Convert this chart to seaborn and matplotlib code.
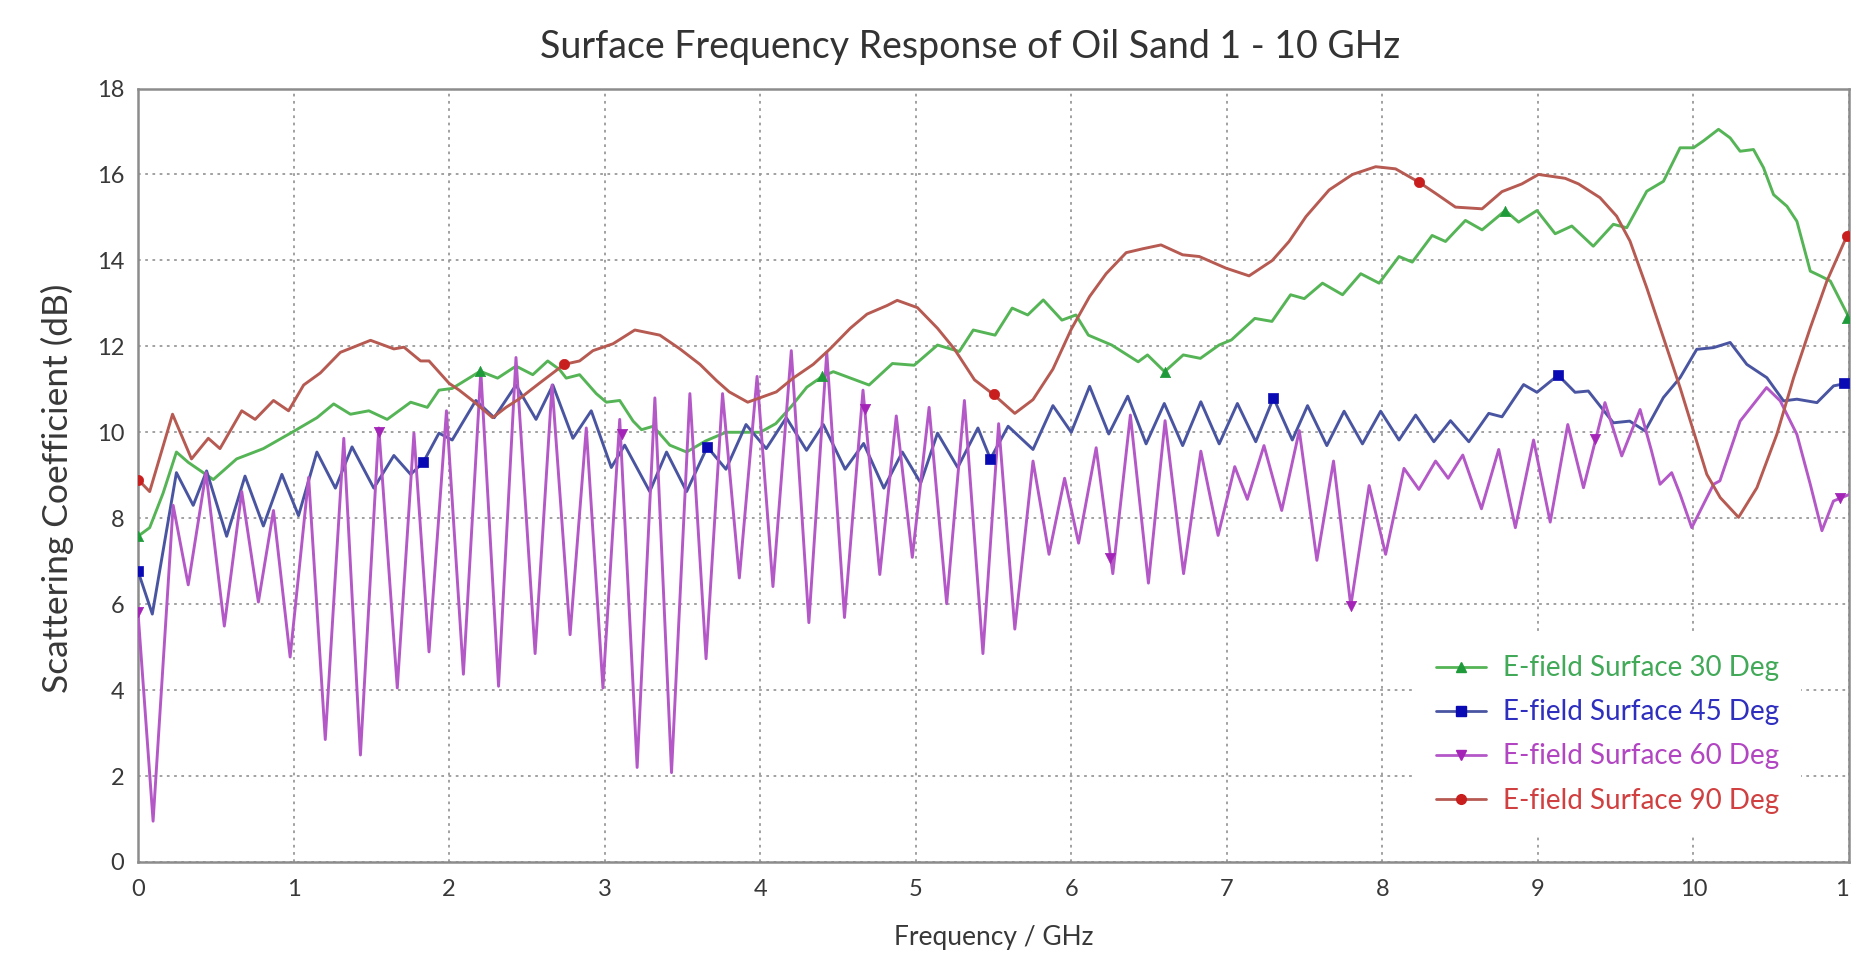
import matplotlib
matplotlib.use("Agg")
import matplotlib.pyplot as plt
from matplotlib.lines import Line2D
import seaborn as sns
import pandas as pd

# ---------------- data ----------------
labels = ["E-field Surface 30 Deg", "E-field Surface 45 Deg",
          "E-field Surface 60 Deg", "E-field Surface 90 Deg"]

freq_30 = [0, 0.075, 0.161, 0.247, 0.323, 0.484, 0.634, 0.806, 1.0, 1.151, 1.258, 1.366,
           1.484, 1.602, 1.753, 1.86, 1.935, 2.02, 2.2, 2.312, 2.43, 2.538, 2.634, 2.71,
           2.753, 2.839, 2.946, 3.011, 3.097, 3.183, 3.237, 3.312, 3.419, 3.527, 3.65, 3.78,
           3.9, 4.0, 4.1, 4.2, 4.3, 4.4, 4.47, 4.7, 4.85, 4.99, 5.14, 5.28, 5.37, 5.51,
           5.62, 5.72, 5.82, 5.94, 6.03, 6.11, 6.26, 6.43, 6.49, 6.6, 6.72, 6.83, 6.95,
           7.03, 7.18, 7.29, 7.41, 7.498, 7.615, 7.744, 7.861, 7.979, 8.107, 8.192, 8.32,
           8.406, 8.534, 8.641, 8.79, 8.876, 8.994, 9.111, 9.218, 9.356, 9.485, 9.571, 9.7,
           9.807, 9.914, 10.0, 10.064, 10.161, 10.236, 10.3, 10.386, 10.45, 10.515, 10.601,
           10.665, 10.751, 10.815, 10.88, 11.0]
s_30 = [7.58, 7.78, 8.58, 9.54, 9.3, 8.9, 9.38, 9.62, 10.02, 10.34, 10.66, 10.42,
        10.5, 10.3, 10.7, 10.58, 10.98, 11.02, 11.42, 11.26, 11.54, 11.34, 11.66, 11.46,
        11.26, 11.34, 10.9, 10.7, 10.74, 10.26, 10.06, 10.14, 9.7, 9.54, 9.8, 10.0,
        10.0, 10.0, 10.2, 10.6, 11.05, 11.3, 11.41, 11.1, 11.6, 11.56, 12.03, 11.88, 12.38, 12.26,
        12.89, 12.73, 13.08, 12.61, 12.73, 12.26, 12.03, 11.64, 11.8, 11.41, 11.8, 11.72, 12.03,
        12.15, 12.65, 12.58, 13.2, 13.11, 13.47, 13.2, 13.69, 13.47, 14.09, 13.96, 14.58,
        14.44, 14.93, 14.71, 15.16, 14.89, 15.16, 14.62, 14.8, 14.33, 14.84, 14.76, 15.61,
        15.84, 16.62, 16.62, 16.78, 17.05, 16.85, 16.54, 16.58, 16.16, 15.53, 15.26,
        14.91, 13.75, 13.64, 13.52, 12.67]

freq_45 = [0, 0.092, 0.247, 0.355, 0.441, 0.57, 0.688, 0.806, 0.925, 1.032, 1.15, 1.269,
           1.376, 1.516, 1.645, 1.753, 1.834, 1.935, 2.02, 2.172, 2.29, 2.43, 2.559, 2.667,
           2.796, 2.914, 3.043, 3.129, 3.29, 3.398, 3.527, 3.66, 3.78, 3.909, 4.039, 4.168,
           4.298, 4.406, 4.546, 4.665, 4.795, 4.914, 5.032, 5.14, 5.27, 5.4, 5.48, 5.594,
           5.754, 5.882, 6.0, 6.118, 6.241, 6.363, 6.481, 6.598, 6.716, 6.833, 6.951, 7.068,
           7.186, 7.3, 7.421, 7.519, 7.643, 7.754, 7.872, 7.989, 8.107, 8.214, 8.331, 8.438,
           8.556, 8.684, 8.769, 8.908, 8.994, 9.13, 9.239, 9.324, 9.485, 9.59, 9.689, 9.807,
           9.914, 10.021, 10.129, 10.236, 10.343, 10.472, 10.579, 10.665, 10.794, 10.901, 11.0]
s_45 = [6.77, 5.77, 9.06, 8.3, 9.1, 7.58, 8.98, 7.82, 9.02, 8.06, 9.54, 8.7,
        9.66, 8.7, 9.46, 9.02, 9.3, 9.98, 9.82, 10.74, 10.34, 11.1, 10.3, 11.1,
        9.86, 10.5, 9.18, 9.7, 8.62, 9.54, 8.62, 9.66, 9.14, 10.18, 9.62, 10.34,
        9.58, 10.18, 9.14, 9.74, 8.7, 9.54, 8.82, 9.98, 9.18, 10.1, 9.38, 10.14,
        9.6, 10.62, 10.0, 11.07, 9.96, 10.84, 9.73, 10.67, 9.69, 10.71, 9.73, 10.67,
        9.78, 10.8, 9.82, 10.62, 9.69, 10.49, 9.73, 10.49, 9.82, 10.4, 9.78, 10.27,
        9.78, 10.44, 10.36, 11.11, 10.93, 11.33, 10.93, 10.96, 10.22, 10.26, 10.03, 10.81,
        11.27, 11.93, 11.97, 12.09, 11.58, 11.27, 10.73, 10.77, 10.69, 11.08, 11.15]

freq_60 = [0.0, 0.097, 0.226, 0.323, 0.437, 0.555, 0.667, 0.774, 0.871, 0.978, 1.097, 1.204,
           1.323, 1.43, 1.548, 1.667, 1.774, 1.871, 1.983, 2.092, 2.204, 2.318, 2.43, 2.553,
           2.662, 2.778, 2.882, 2.989, 3.097, 3.209, 3.323, 3.43, 3.548, 3.652, 3.758, 3.866,
           3.98, 4.082, 4.2, 4.313, 4.428, 4.542, 4.661, 4.769, 4.875, 4.978, 5.086, 5.199,
           5.313, 5.432, 5.533, 5.637, 5.754, 5.857, 5.957, 6.047, 6.16, 6.267, 6.38, 6.496,
           6.603, 6.722, 6.833, 6.944, 7.051, 7.132, 7.239, 7.353, 7.466, 7.579, 7.686, 7.797,
           7.915, 8.021, 8.139, 8.235, 8.342, 8.423, 8.517, 8.637, 8.748, 8.855, 8.972, 9.079,
           9.192, 9.293, 9.431, 9.539, 9.657, 9.73, 9.785, 9.86, 9.914, 9.989, 10.129, 10.17,
           10.3, 10.47, 10.558, 10.665, 10.751, 10.826, 10.9, 11.0]
s_60 = [5.81, 0.95, 8.3, 6.45, 9.06, 5.49, 8.62, 6.05, 8.18, 4.77, 8.95, 2.85,
        9.86, 2.49, 10.1, 4.05, 9.98, 4.89, 10.5, 4.37, 11.42, 4.09, 11.74, 4.85,
        11.1, 5.29, 10.1, 4.05, 10.3, 2.2, 10.8, 2.08, 10.9, 4.73, 10.9, 6.61,
        11.3, 6.41, 11.9, 5.57, 11.86, 5.69, 10.98, 6.69, 10.38, 7.09, 10.58, 6.01,
        10.74, 4.85, 10.2, 5.42, 9.33, 7.16, 8.93, 7.42, 9.64, 6.71, 10.4, 6.49,
        10.27, 6.71, 9.56, 7.6, 9.2, 8.44, 9.69, 8.18, 10.04, 7.02, 9.33, 5.96,
        8.76, 7.16, 9.16, 8.67, 9.33, 8.93, 9.47, 8.22, 9.6, 7.78, 9.82, 7.91,
        10.18, 8.71, 10.69, 9.45, 10.53, 9.57, 8.79, 9.06, 8.56, 7.78, 8.79, 8.87,
        10.26, 11.04, 10.73, 9.95, 8.79, 7.71, 8.4, 8.55]

freq_90 = [0, 0.075, 0.222, 0.344, 0.452, 0.527, 0.667, 0.753, 0.871, 0.968, 1.065, 1.172,
           1.301, 1.495, 1.645, 1.71, 1.817, 1.871, 2.0, 2.065, 2.15, 2.28, 2.366, 2.452,
           2.58, 2.74, 2.839, 2.925, 3.054, 3.194, 3.355, 3.484, 3.613, 3.72, 3.801, 3.92,
           4.104, 4.212, 4.341, 4.449, 4.579, 4.687, 4.816, 4.881, 5.011, 5.14, 5.248, 5.378,
           5.5, 5.637, 5.754, 5.882, 6.0, 6.118, 6.224, 6.353, 6.459, 6.577, 6.716, 6.823,
           6.994, 7.143, 7.293, 7.4, 7.509, 7.658, 7.808, 7.957, 8.085, 8.235, 8.342, 8.47,
           8.641, 8.769, 8.897, 9.004, 9.175, 9.261, 9.399, 9.506, 9.592, 9.7, 9.807, 9.914,
           10.0, 10.086, 10.172, 10.29, 10.408, 10.536, 10.644, 10.751, 10.858, 11.0]
s_90 = [8.9, 8.62, 10.42, 9.38, 9.86, 9.62, 10.5, 10.3, 10.74, 10.5, 11.1, 11.38,
        11.86, 12.14, 11.94, 11.98, 11.66, 11.66, 11.14, 10.98, 10.74, 10.34, 10.58, 10.78,
        11.14, 11.58, 11.66, 11.9, 12.06, 12.38, 12.26, 11.94, 11.58, 11.2, 10.94, 10.7,
        10.94, 11.26, 11.58, 11.94, 12.42, 12.75, 12.95, 13.07, 12.9, 12.42, 11.94, 11.22,
        10.88, 10.44, 10.76, 11.47, 12.4, 13.16, 13.69, 14.18, 14.27, 14.36, 14.13, 14.09,
        13.82, 13.64, 14.0, 14.44, 15.02, 15.64, 16.0, 16.18, 16.13, 15.82, 15.56, 15.24,
        15.2, 15.6, 15.78, 16.0, 15.91, 15.78, 15.46, 15.03, 14.45, 13.36, 12.2, 11.04,
        10.03, 9.02, 8.48, 8.02, 8.71, 9.95, 11.27, 12.43, 13.52, 14.68]

# marker positions seen on each curve
mk_freq_30 = [0, 2.2, 4.4, 6.6, 8.79, 10.99]
mk_s_30 = [7.58, 11.42, 11.3, 11.41, 15.16, 12.67]
mk_freq_45 = [0, 1.834, 3.66, 5.48, 7.3, 9.13, 10.97]
mk_s_45 = [6.77, 9.3, 9.66, 9.38, 10.8, 11.33, 11.15]
mk_freq_60 = [0, 1.55, 3.11, 4.677, 6.25, 7.8, 9.37, 10.94]
mk_s_60 = [5.81, 10.0, 9.97, 10.55, 7.07, 5.96, 9.84, 8.48]
mk_freq_90 = [0, 2.74, 5.5, 8.235, 10.99]
mk_s_90 = [8.9, 11.58, 10.88, 15.82, 14.57]

x_ticks = list(range(0, 12))
y_ticks = list(range(0, 19, 2))

# ---------------- styling ----------------
line_colors = ["#55b455", "#4a55a2", "#b458c8", "#b65a52"]
marker_colors = ["#1f9a3a", "#0a0ab4", "#a424b8", "#c81e1e"]
markers = ["^", "s", "v", "o"]
text_gray = "#383838"

sns.set_theme(style="white")
plt.rcParams["font.family"] = ["Lato", "DejaVu Sans"]

fig = plt.figure(figsize=(18.51, 9.61), dpi=100)
ax = fig.add_axes([138 / 1851, 1 - 862 / 961, 1711 / 1851, 773.5 / 961])

series = [(freq_30, s_30, mk_freq_30, mk_s_30),
          (freq_45, s_45, mk_freq_45, mk_s_45),
          (freq_60, s_60, mk_freq_60, mk_s_60),
          (freq_90, s_90, mk_freq_90, mk_s_90)]

for i, (fx, sy, mx, my) in enumerate(series):
    df = pd.DataFrame({"f": fx, "s": sy})
    sns.lineplot(data=df, x="f", y="s", sort=False, estimator=None, ax=ax,
                 color=line_colors[i], lw=2.1, zorder=3 + i)
    dm = pd.DataFrame({"f": mx, "s": my})
    sns.scatterplot(data=dm, x="f", y="s", ax=ax, marker=markers[i],
                    color=marker_colors[i], s=55, edgecolor=marker_colors[i],
                    linewidth=0.5, zorder=8, legend=False)

ax.set_xlim(0, 11)
ax.set_ylim(0, 18)
ax.set_xticks(x_ticks)
ax.set_yticks(y_ticks)
ax.grid(True, color="#9a9a9a", linestyle=(0, (1.5, 2.5)), linewidth=1.3, zorder=0)
for sp in ax.spines.values():
    sp.set_color("#8c8c8c")
    sp.set_linewidth(1.8)
ax.tick_params(axis="both", labelsize=17, colors=text_gray, length=4,
               direction="out", color="#8c8c8c")
ax.tick_params(axis="x", pad=8)
ax.tick_params(axis="y", pad=6)

ax.set_xlabel("Frequency / GHz", fontsize=19, color=text_gray)
ax.set_ylabel("Scattering Coefficient (dB)", fontsize=25.5, color=text_gray)
ax.xaxis.label.set_va("center")
ax.yaxis.label.set_va("center")
ax.xaxis.set_label_coords(0.5, -0.098)
ax.yaxis.set_label_coords(-0.047, 0.483)

fig.text(0.524, 0.951, "Surface Frequency Response of Oil Sand 1 - 10 GHz",
         ha="center", va="center", fontsize=27, color="#333333")

handles = [Line2D([0], [0], color=line_colors[i], lw=2, marker=markers[i],
                  markersize=7, markerfacecolor=marker_colors[i],
                  markeredgecolor=marker_colors[i]) for i in range(4)]
leg = ax.legend(handles, labels, loc="lower right", bbox_to_anchor=(0.98, 0.016),
                fontsize=20, frameon=True, facecolor="white", edgecolor="none",
                framealpha=1.0, handlelength=1.8, labelspacing=0.65,
                handletextpad=0.6, borderpad=0.8)
leg.set_zorder(20)
for t, c in zip(leg.get_texts(), marker_colors):
    t.set_color(c)
    t.set_alpha(0.85)

fig.savefig("out.png", dpi=100)
